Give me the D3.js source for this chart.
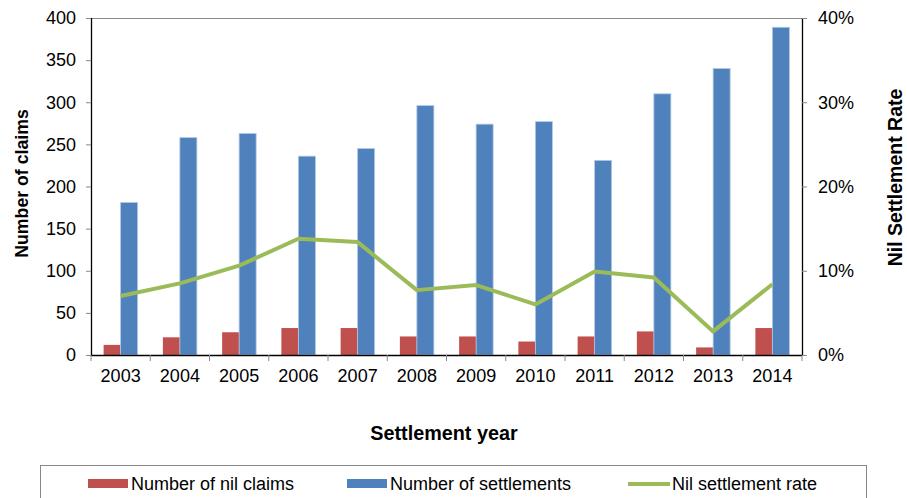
<!DOCTYPE html>
<html><head><meta charset="utf-8">
<script src="https://cdn.jsdelivr.net/npm/d3@7"></script>
<style>body{margin:0;background:#fff;}svg{display:block;font-family:"Liberation Sans",Arial,sans-serif;}</style>
</head><body><svg id="c" width="907" height="498"></svg>
<script>
const years = ["2003","2004","2005","2006","2007","2008","2009","2010","2011","2012","2013","2014"];
const nilClaims = [12,21,27,32,32,22,22,16,22,28,9,32];
const settlements = [181,258,263,236,245,296,274,277,231,310,340,389];
const nilRate = [0.070,0.085,0.106,0.138,0.134,0.077,0.083,0.060,0.099,0.092,0.028,0.084];
const leftTicks = [0,50,100,150,200,250,300,350,400];
const rightTicks = [0,0.1,0.2,0.3,0.4];
const seriesNames = ["Number of nil claims","Number of settlements","Nil settlement rate"];
const colors = ["#C0504D","#4F81BD","#9BBB59"];

const svg = d3.select("#c");
const L = 91, R = 802, T = 18, B = 355;
const x = d3.scaleBand().domain(years).range([L, R]).paddingInner(0).paddingOuter(0);
const yL = d3.scaleLinear().domain([0,400]).range([B, T]);
const yR = d3.scaleLinear().domain([0,0.4]).range([B, T]);
const barW = 17;

// top border
svg.append("line").attr("x1",L).attr("x2",R).attr("y1",T+0.5).attr("y2",T+0.5).attr("stroke","#8c8c8c").attr("stroke-width",1);

// bars
const g = svg.append("g");
g.selectAll("rect.nil").data(years).enter().append("rect")
  .attr("x", (d)=>x(d)+x.bandwidth()/2-barW)
  .attr("y", (d,i)=>yL(nilClaims[i]))
  .attr("width", barW).attr("height",(d,i)=>B-yL(nilClaims[i]))
  .attr("fill", colors[0]);
g.selectAll("rect.set").data(years).enter().append("rect")
  .attr("x", (d)=>x(d)+x.bandwidth()/2)
  .attr("y", (d,i)=>yL(settlements[i]))
  .attr("width", barW).attr("height",(d,i)=>B-yL(settlements[i]))
  .attr("fill", colors[1]).attr("stroke","#b4c8e2").attr("stroke-width",0.8);

// line
const line = d3.line().x((d,i)=>x(years[i])+x.bandwidth()/2).y(d=>yR(d));
svg.append("path").datum(nilRate).attr("d",line).attr("fill","none")
  .attr("stroke",colors[2]).attr("stroke-width",4).attr("stroke-linejoin","round");

// axes
const fs = "18px";
const axL = svg.append("g").attr("transform",`translate(${L},0)`)
  .call(d3.axisLeft(yL).tickValues(leftTicks).tickSize(5).tickPadding(10));
const axR = svg.append("g").attr("transform",`translate(${R},0)`)
  .call(d3.axisRight(yR).tickValues(rightTicks).tickSize(5).tickPadding(11).tickFormat(d3.format(".0%")));
const axB = svg.append("g").attr("transform",`translate(0,${B})`)
  .call(d3.axisBottom(x).tickSize(0).tickPadding(14));
[axL,axR,axB].forEach(a=>{
  a.select(".domain").attr("stroke","#000").attr("stroke-width",1.3);
  a.selectAll(".tick line").attr("stroke","#888");
  a.selectAll("text").attr("font-size",fs).attr("fill","#000").attr("font-family","Liberation Sans, Arial, sans-serif");
});
axL.select(".domain").attr("d",`M0.5,${T}V${B}`);
axR.select(".domain").attr("d",`M0.5,${T}V${B}`);
axB.select(".domain").attr("d",`M${L},0.5H${R}`);
// category separator ticks
axB.selectAll("line.sep").data(d3.range(years.length+1)).enter().append("line")
  .attr("x1",i=>L+i*x.step()).attr("x2",i=>L+i*x.step())
  .attr("y1",0).attr("y2",6).attr("stroke","#888");

// titles
svg.append("text").attr("transform",`translate(28,183.5) rotate(-90)`)
  .attr("text-anchor","middle").attr("font-weight","bold").attr("font-size","17.7px").text("Number of claims");
svg.append("text").attr("transform",`translate(902,177.5) rotate(-90)`)
  .attr("text-anchor","middle").attr("font-weight","bold").attr("font-size","19.5px").text("Nil Settlement Rate");
svg.append("text").attr("x",444).attr("y",440)
  .attr("text-anchor","middle").attr("font-weight","bold").attr("font-size","19.8px").text("Settlement year");

// legend
svg.append("rect").attr("x",40.5).attr("y",465.5).attr("width",826).attr("height",50)
  .attr("fill","none").attr("stroke","#888");
const lx = [88,347,628];
const leg = svg.append("g");
seriesNames.forEach((n,i)=>{
  if(i<2){
    leg.append("rect").attr("x",lx[i]).attr("y",479).attr("width",40).attr("height",9).attr("fill",colors[i]);
  } else {
    leg.append("line").attr("x1",lx[i]).attr("x2",lx[i]+42).attr("y1",484).attr("y2",484)
      .attr("stroke",colors[i]).attr("stroke-width",4);
  }
  leg.append("text").attr("x",lx[i]+(i<2?43:44)).attr("y",490).attr("font-size","18px").text(n);
});
</script></body></html>
